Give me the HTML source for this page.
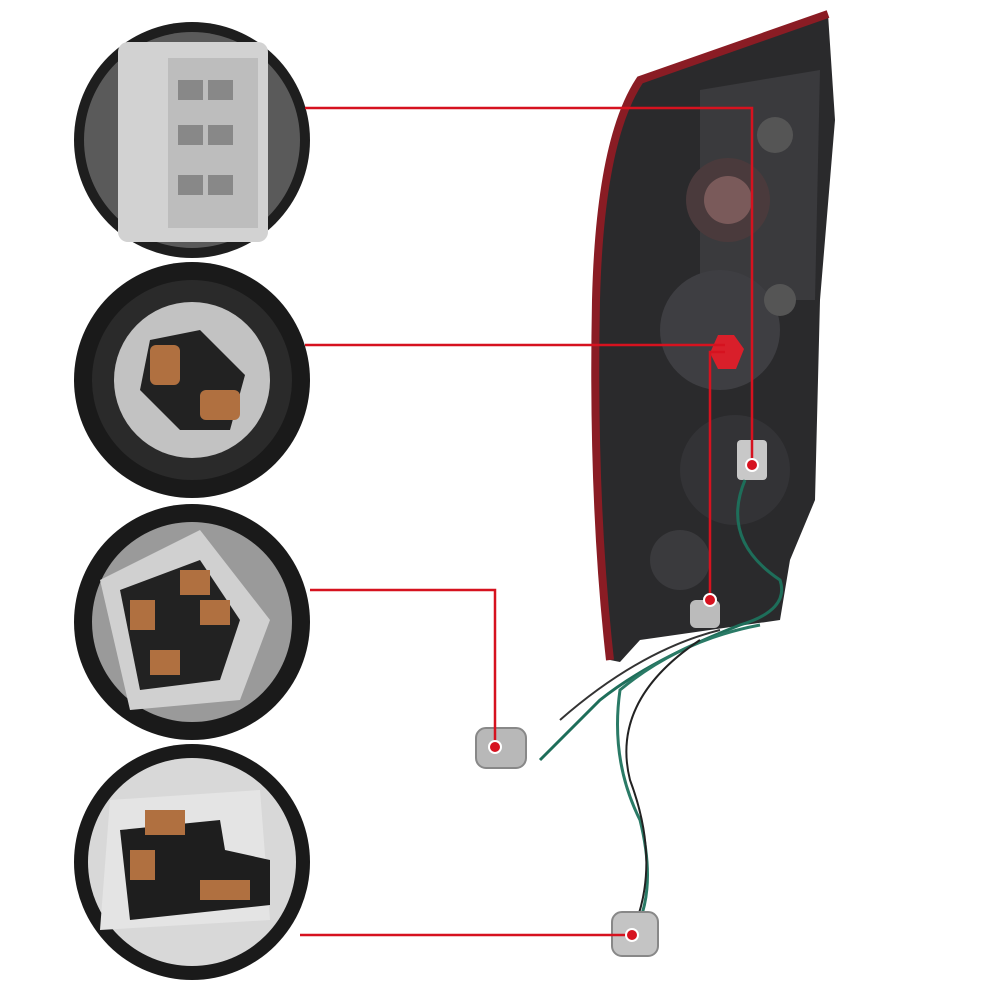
<!DOCTYPE html>
<html><head><meta charset="utf-8"><style>
html,body{margin:0;padding:0;background:#fff;width:1000px;height:1000px;overflow:hidden}
</style></head><body>
<svg width="1000" height="1000" viewBox="0 0 1000 1000" xmlns="http://www.w3.org/2000/svg">
<rect width="1000" height="1000" fill="#fff"/>
<!-- tail light housing -->
<path d="M828 14 L640 80 Q600 140 596 300 Q592 500 610 660 L620 662 L640 640 L780 620 L790 560 L815 500 L820 300 L835 120 Z" fill="#2a2a2c"/>
<path d="M828 14 L640 80 Q600 140 596 300 Q592 500 610 660" fill="none" stroke="#8a1c24" stroke-width="8"/>
<path d="M700 90 L820 70 L815 300 L700 300 Z" fill="#3a3a3d"/>
<circle cx="728" cy="200" r="42" fill="#4a3a3c"/>
<circle cx="728" cy="200" r="24" fill="#7a5a5a"/>
<circle cx="720" cy="330" r="60" fill="#3e3e42"/>
<circle cx="735" cy="470" r="55" fill="#333336"/>
<circle cx="680" cy="560" r="30" fill="#3a3a3d"/>
<circle cx="775" cy="135" r="18" fill="#555"/>
<circle cx="780" cy="300" r="16" fill="#555"/>
<path d="M718 335 l16 0 l10 14 l-8 20 l-18 0 l-8 -16 z" fill="#d91f2a"/>
<rect x="737" y="440" width="30" height="40" rx="4" fill="#c8c8c8"/>
<rect x="690" y="600" width="30" height="28" rx="6" fill="#bbb"/>
<!-- wires -->
<path d="M745 480 Q720 540 780 580 Q790 610 740 625 Q650 660 600 700 Q560 740 540 760" fill="none" stroke="#1e6e5a" stroke-width="3"/>
<path d="M760 625 Q680 640 620 690 Q610 760 640 820 Q655 880 640 920" fill="none" stroke="#2a7a66" stroke-width="3"/>
<path d="M700 640 Q610 700 630 780 Q660 860 635 925" fill="none" stroke="#222" stroke-width="2"/>
<path d="M720 630 Q640 650 560 720" fill="none" stroke="#333" stroke-width="2"/>
<!-- bottom sockets -->
<rect x="476" y="728" width="50" height="40" rx="10" fill="#b8b8b8" stroke="#888" stroke-width="2"/>
<rect x="612" y="912" width="46" height="44" rx="10" fill="#c4c4c4" stroke="#888" stroke-width="2"/>
<!-- circles -->
<g>
<circle cx="192" cy="140" r="118" fill="#1e1e1e"/>
<circle cx="192" cy="140" r="108" fill="#5a5a5a"/>
<rect x="118" y="42" width="150" height="200" rx="10" fill="#d2d2d2"/>
<rect x="168" y="58" width="90" height="170" fill="#bdbdbd"/>
<rect x="178" y="80" width="25" height="20" fill="#888"/><rect x="208" y="80" width="25" height="20" fill="#888"/>
<rect x="178" y="125" width="25" height="20" fill="#888"/><rect x="208" y="125" width="25" height="20" fill="#888"/>
<rect x="178" y="175" width="25" height="20" fill="#888"/><rect x="208" y="175" width="25" height="20" fill="#888"/>
</g>
<g>
<circle cx="192" cy="380" r="118" fill="#1a1a1a"/>
<circle cx="192" cy="380" r="100" fill="#2a2a2a"/>
<circle cx="192" cy="380" r="78" fill="#c2c2c2"/>
<path d="M150 340 L200 330 L245 375 L230 430 L180 430 L140 390 Z" fill="#222"/>
<rect x="150" y="345" width="30" height="40" rx="6" fill="#b07040"/>
<rect x="200" y="390" width="40" height="30" rx="6" fill="#b07040"/>
</g>
<g>
<circle cx="192" cy="622" r="118" fill="#1a1a1a"/>
<circle cx="192" cy="622" r="100" fill="#9a9a9a"/>
<path d="M100 580 L200 530 L270 620 L240 700 L130 710 Z" fill="#d0d0d0"/>
<path d="M120 590 L200 560 L240 620 L220 680 L140 690 Z" fill="#222"/>
<rect x="130" y="600" width="25" height="30" fill="#b07040"/><rect x="180" y="570" width="30" height="25" fill="#b07040"/>
<rect x="200" y="600" width="30" height="25" fill="#b07040"/><rect x="150" y="650" width="30" height="25" fill="#b07040"/>
</g>
<g>
<circle cx="192" cy="862" r="118" fill="#1a1a1a"/>
<circle cx="192" cy="862" r="104" fill="#d8d8d8"/>
<path d="M110 800 L260 790 L270 920 L100 930 Z" fill="#e4e4e4"/>
<path d="M120 830 L220 820 L225 850 L270 860 L270 905 L130 920 Z" fill="#1e1e1e"/>
<rect x="145" y="810" width="40" height="25" fill="#b07040"/>
<rect x="130" y="850" width="25" height="30" fill="#b07040"/>
<rect x="200" y="880" width="50" height="20" fill="#b07040"/>
</g>
<!-- red callouts -->
<g fill="none" stroke="#d6121f" stroke-width="2.5">
<polyline points="305,108 752,108 752,462"/>
<line x1="305" y1="345" x2="725" y2="345"/>
<polyline points="725,352 710,352 710,598"/>
<polyline points="310,590 495,590 495,745"/>
<line x1="300" y1="935" x2="632" y2="935"/>
</g>
<g fill="#d6121f" stroke="#fff" stroke-width="2">
<circle cx="752" cy="465" r="6"/>
<circle cx="710" cy="600" r="6"/>
<circle cx="495" cy="747" r="6"/>
<circle cx="632" cy="935" r="6"/>
</g>
</svg>
</body></html>
